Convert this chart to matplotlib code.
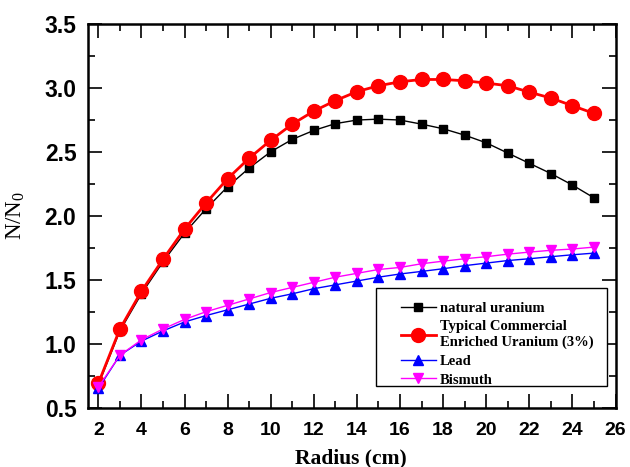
import matplotlib
matplotlib.use("Agg")
from matplotlib import pyplot as plt
from matplotlib.ticker import MultipleLocator, FormatStrFormatter
from matplotlib.patches import Rectangle

radius = [2, 3, 4, 5, 6, 7, 8, 9, 10, 11, 12, 13, 14, 15, 16, 17, 18, 19, 20, 21, 22, 23, 24, 25]

natural_u = [0.68, 1.10, 1.39, 1.64, 1.865, 2.055, 2.227, 2.373, 2.50, 2.597, 2.667, 2.72,
             2.748, 2.755, 2.748, 2.716, 2.68, 2.63, 2.57, 2.49, 2.41, 2.33, 2.24, 2.14]
enriched_u = [0.69, 1.115, 1.41, 1.66, 1.896, 2.10, 2.29, 2.45, 2.59, 2.716, 2.818, 2.90,
              2.97, 3.016, 3.047, 3.065, 3.065, 3.055, 3.037, 3.016, 2.966, 2.92, 2.86, 2.80]
lead = [0.65, 0.91, 1.02, 1.10, 1.17, 1.22, 1.265, 1.31, 1.355, 1.39, 1.43, 1.46,
        1.49, 1.52, 1.545, 1.565, 1.586, 1.61, 1.63, 1.65, 1.664, 1.68, 1.695, 1.708]
bismuth = [0.66, 0.91, 1.03, 1.115, 1.19, 1.25, 1.30, 1.35, 1.40, 1.44, 1.48, 1.52,
           1.55, 1.58, 1.596, 1.625, 1.645, 1.664, 1.68, 1.70, 1.716, 1.73, 1.74, 1.755]

serif = ['Liberation Serif', 'DejaVu Serif']
sans = ['Liberation Sans', 'DejaVu Sans']
plt.rcParams['font.family'] = sans
plt.rcParams['font.weight'] = 'bold'

fig = plt.figure(figsize=(6.3, 4.67), dpi=100)
ax = fig.add_axes([0.139, 0.127, 0.838, 0.822])

ax.plot(radius, natural_u, color='black', lw=1, marker='s', ms=6,
        label='natural uranium')
ax.plot(radius, enriched_u, color='red', lw=2, marker='o', ms=10,
        label='Typical Commercial\nEnriched Uranium (3%)')
ax.plot(radius, lead, color='blue', lw=1, marker='^', ms=7, label='Lead')
ax.plot(radius, bismuth, color='magenta', lw=1, marker='v', ms=7, label='Bismuth')

ax.set_xlim(1.5, 26)
ax.set_ylim(0.5, 3.5)
ax.xaxis.set_major_locator(MultipleLocator(2))
ax.xaxis.set_minor_locator(MultipleLocator(1))
ax.yaxis.set_major_locator(MultipleLocator(0.5))
ax.yaxis.set_minor_locator(MultipleLocator(0.25))
ax.yaxis.set_major_formatter(FormatStrFormatter('%.1f'))
ax.tick_params(which='both', direction='in', top=True, right=True, width=1.2)
ax.tick_params(which='major', length=10)
ax.tick_params(which='minor', length=5)
ax.tick_params(axis='x', labelsize=14, pad=10)
ax.tick_params(axis='y', labelsize=16.5, pad=8)
for s in ax.spines.values():
    s.set_linewidth(1.8)

ax.set_xlabel('Radius (cm)', family=serif, fontweight='bold', fontsize=15.5)
ax.xaxis.set_label_coords(0.499, -0.105)
ax.set_ylabel('N/N$\\mathregular{_0}$', family=serif, fontweight='normal', fontsize=16.5)
ax.yaxis.set_label_coords(-0.115, 0.5)

# legend frame drawn separately to get the wide left margin
ax.add_patch(Rectangle((0.546, 0.057), 0.438, 0.255, transform=ax.transAxes,
                       facecolor='white', edgecolor='black', lw=1, zorder=4))
leg = ax.legend(loc='upper left', bbox_to_anchor=(0.593, 0.276), borderaxespad=0,
                prop={'family': serif, 'weight': 'bold', 'size': 10.5},
                frameon=False, borderpad=0,
                handlelength=2.4, labelspacing=0.38, handletextpad=0.3)
leg.set_zorder(5)

fig.savefig('out.png', dpi=100)
